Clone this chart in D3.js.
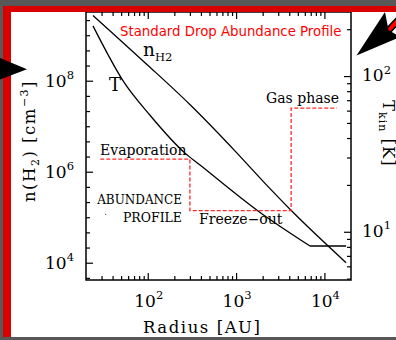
<!DOCTYPE html>
<html>
<head>
<meta charset="utf-8">
<script src="https://d3js.org/d3.v7.min.js"></script>
<style>
  html, body { margin: 0; padding: 0; background: #585858; }
  svg { display: block; }
  text { font-family: 'DejaVu Serif', serif; fill: #000; }
  .tick line { stroke: #000; stroke-width: 1.2; }
</style>
</head>
<body>
<svg id="chart" width="396" height="340"></svg>
<script>
// density profile, radius in AU
var nRadius = [24, 50, 100, 300, 1000, 2000, 4300, 17600];
var nH2 = [2.7e9, 7.5e8, 2.2e8, 3.0e7, 2.7e6, 6.3e5, 1.35e5, 1.0e4];

// kinetic temperature, the last two points are the flat floor
var tRadius = [24, 54, 106, 264, 391, 1770, 6870, 17600];
var tKin = [210, 91, 56, 32, 26.8, 13.6, 8.1, 8.1];

// step abundance profile (drawn against the left axis)
var dropRadius = [29, 300, 300, 4200, 4200, 13800];
var dropLevel = [1.9e6, 1.9e6, 1.4e5, 1.4e5, 2.5e7, 2.5e7];

var xTicks = [100, 1000, 10000];
var nTicks = [1e4, 1e6, 1e8];
var tTicks = [10, 100];

var plotL = 86, plotR = 351, plotT = 12, plotB = 280;

var svg = d3.select('#chart');

var x = d3.scaleLog().domain([20, 20000]).range([plotL, plotR]);
var yN = d3.scaleLog().domain([4170, 3.24e9]).range([plotB, plotT]);
var yT = d3.scaleLog().domain([4.9, 258]).range([plotB, plotT]);

// page background + white sheet
svg.append('rect').attr('width', 396).attr('height', 340).attr('fill', '#585858');
svg.append('rect').attr('x', 11).attr('y', 12).attr('width', 385).attr('height', 325).attr('fill', '#fff');

// minor ticks 2..9 per decade inside a domain
function logMinors(dom) {
    var out = [];
    for (var e = -1; e < 12; e++) {
        for (var m = 2; m < 10; m++) {
            var v = m * Math.pow(10, e);
            if (v > dom[0] && v < dom[1]) out.push(v);
        }
    }
    return out;
}
// left axis: minor ticks are evenly spaced in log (1/3 decade)
var nMinors = d3.range(11, 29).filter(function(k) { return k % 6 != 0; })
    .map(function(k) { return Math.pow(10, k / 3); });

function drawAxis(axis, tx, ty) {
    var g = svg.append('g').attr('transform', 'translate(' + tx + ',' + ty + ')').call(axis);
    g.select('.domain').remove();
    return g;
}

var xMin = logMinors(x.domain());
drawAxis(d3.axisBottom(x).tickValues(xTicks).tickSizeInner(-7).tickSizeOuter(0).tickFormat(''), 0, plotB);
drawAxis(d3.axisBottom(x).tickValues(xMin).tickSizeInner(-4).tickSizeOuter(0).tickFormat(''), 0, plotB);
drawAxis(d3.axisTop(x).tickValues(xTicks).tickSizeInner(-7).tickSizeOuter(0).tickFormat(''), 0, plotT);
drawAxis(d3.axisTop(x).tickValues(xMin).tickSizeInner(-4).tickSizeOuter(0).tickFormat(''), 0, plotT);

drawAxis(d3.axisLeft(yN).tickValues(nTicks).tickSizeInner(-7).tickSizeOuter(0).tickFormat(''), plotL, 0);
drawAxis(d3.axisLeft(yN).tickValues(nMinors).tickSizeInner(-4).tickSizeOuter(0).tickFormat(''), plotL, 0);

drawAxis(d3.axisRight(yT).tickValues(tTicks).tickSizeInner(-7).tickSizeOuter(0).tickFormat(''), plotR, 0);
drawAxis(d3.axisRight(yT).tickValues(logMinors(yT.domain())).tickSizeInner(-4).tickSizeOuter(0).tickFormat(''), plotR, 0);

// frame
svg.append('rect').attr('x', plotL).attr('y', plotT).attr('width', plotR - plotL).attr('height', plotB - plotT)
    .attr('fill', 'none').attr('stroke', '#000').attr('stroke-width', 1.5);

// 10^n labels
function powLabel(px, py, v, anchor) {
    var t = svg.append('text').attr('x', px).attr('y', py).attr('text-anchor', anchor)
        .style('font-size', '17px');
    t.append('tspan').text('10');
    t.append('tspan').attr('dy', -7.5).style('font-size', '11.5px').text(Math.round(Math.log10(v)));
}
xTicks.forEach(function(v) { powLabel(x(v) + 1, 306.5, v, 'middle'); });
nTicks.forEach(function(v) { powLabel(74, yN(v) + 6, v, 'end'); });
tTicks.forEach(function(v) { powLabel(362, yT(v) + 5, v, 'start'); });

// axis titles
svg.append('text').attr('x', 201.5).attr('y', 333).attr('text-anchor', 'middle')
    .attr('textLength', 117).attr('lengthAdjust', 'spacing')
    .style('font-size', '16.5px').text('Radius [AU]');

var yl = svg.append('text').attr('transform', 'translate(35,141) rotate(-90)')
    .attr('text-anchor', 'middle').style('font-size', '16.5px').style('letter-spacing', '1.5px');
yl.append('tspan').text('n(H');
yl.append('tspan').attr('dy', 4).style('font-size', '11px').text('2');
yl.append('tspan').attr('dy', -4).text(') [cm');
yl.append('tspan').attr('dy', -7).style('font-size', '11px').text('\u22123');
yl.append('tspan').attr('dy', 7).text(']');

var yr = svg.append('text').attr('transform', 'translate(383,100) rotate(90)')
    .style('font-size', '16.5px').style('letter-spacing', '1px');
yr.append('tspan').text('T');
yr.append('tspan').attr('dy', 4).style('font-size', '11px').text('kin');
yr.append('tspan').attr('dy', -4).text(' [K]');

// curves
var nLine = d3.line().x(function(d) { return x(d[0]); }).y(function(d) { return yN(d[1]); })
    .curve(d3.curveMonotoneX);
svg.append('path').attr('d', nLine(d3.zip(nRadius, nH2)))
    .attr('fill', 'none').attr('stroke', '#000').attr('stroke-width', 1.3);

var tPts = d3.zip(tRadius, tKin);
var tLine = d3.line().x(function(d) { return x(d[0]); }).y(function(d) { return yT(d[1]); });
svg.append('path').attr('d', tLine.curve(d3.curveMonotoneX)(tPts.slice(0, tPts.length - 1)))
    .attr('fill', 'none').attr('stroke', '#000').attr('stroke-width', 1.3);
svg.append('path').attr('d', tLine.curve(d3.curveLinear)(tPts.slice(tPts.length - 2)))
    .attr('fill', 'none').attr('stroke', '#000').attr('stroke-width', 1.3);

var dropLine = d3.line().x(function(d) { return x(d[0]); }).y(function(d) { return yN(d[1]); });
svg.append('path').attr('d', dropLine(d3.zip(dropRadius, dropLevel)))
    .attr('fill', 'none').attr('stroke', '#ff2a2a').attr('stroke-width', 1.3)
    .attr('stroke-dasharray', '4,2');

// annotations
svg.append('text').attr('x', 120).attr('y', 36).style('font-family', "'DejaVu Sans', sans-serif")
    .style('font-size', '13.3px').style('fill', '#f00').text('Standard Drop Abundance Profile');

var nl = svg.append('text').attr('x', 143).attr('y', 56).style('font-size', '18.5px');
nl.append('tspan').text('n');
nl.append('tspan').attr('dy', 5).style('font-size', '11.5px').text('H2');

svg.append('text').attr('x', 109).attr('y', 91).style('font-size', '18px').text('T');

svg.append('text').attr('x', 100).attr('y', 155).style('font-size', '14px').text('Evaporation');
svg.append('text').attr('x', 266).attr('y', 103).style('font-size', '14px').text('Gas phase');
svg.append('text').attr('x', 199).attr('y', 224).style('font-size', '14px').text('Freeze\u2212out');
svg.append('text').attr('x', 182).attr('y', 204).attr('text-anchor', 'end')
    .style('font-size', '12px').text('ABUNDANCE');
svg.append('text').attr('x', 182).attr('y', 221.5).attr('text-anchor', 'end')
    .style('font-size', '12.5px').text('PROFILE');
svg.append('circle').attr('cx', 105.7).attr('cy', 214.3).attr('r', 0.6).attr('fill', '#333');

// red frame of the slide
svg.append('rect').attr('x', 3).attr('y', 6).attr('width', 393).attr('height', 6).attr('fill', '#d90000');
svg.append('rect').attr('x', 3).attr('y', 6).attr('width', 8).attr('height', 331).attr('fill', '#d90000');

// pointer arrows
svg.append('polygon').attr('points', '0,58 27,69.3 0,79.5').attr('fill', '#000');
svg.append('line').attr('x1', 387).attr('y1', 32).attr('x2', 401).attr('y2', 17)
    .attr('stroke', '#000').attr('stroke-width', 7);
svg.append('line').attr('x1', 388).attr('y1', 31).attr('x2', 401).attr('y2', 17)
    .attr('stroke', '#f00').attr('stroke-width', 4);
svg.append('polygon').attr('points', '356.5,55.5 385,12 388.5,30 400,37').attr('fill', '#000');
</script>
</body>
</html>
